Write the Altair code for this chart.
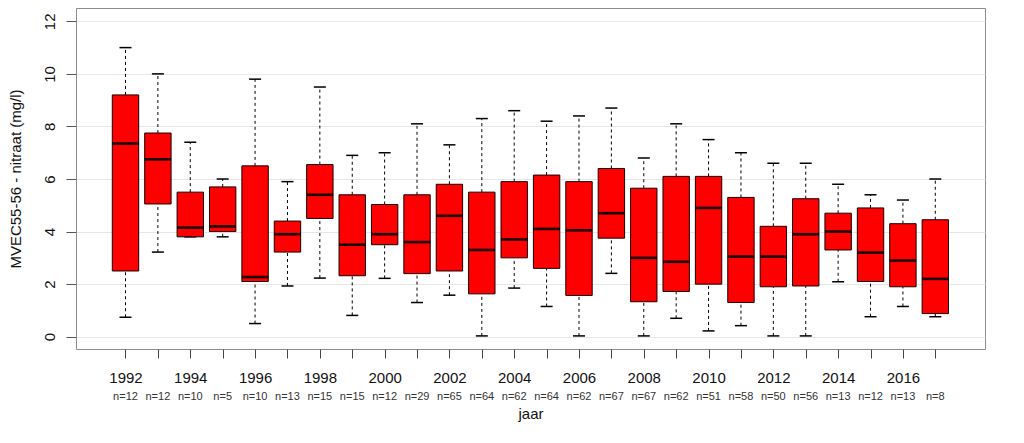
import altair as alt
import pandas as pd

years = list(range(1992, 2018))
hi = [11.0, 10.0, 7.4, 6.0, 9.8, 5.9, 9.5, 6.9, 7.0, 8.1, 7.3, 8.3, 8.6, 8.2, 8.4, 8.7, 6.8, 8.1, 7.5, 7.0, 6.6, 6.6, 5.8, 5.4, 5.2, 6.0]
q3 = [9.2, 7.75, 5.5, 5.7, 6.5, 4.4, 6.55, 5.4, 5.03, 5.4, 5.8, 5.5, 5.9, 6.15, 5.9, 6.4, 5.65, 6.1, 6.1, 5.3, 4.2, 5.25, 4.7, 4.9, 4.3, 4.45]
med = [7.35, 6.75, 4.15, 4.2, 2.27, 3.9, 5.4, 3.5, 3.9, 3.6, 4.6, 3.3, 3.7, 4.1, 4.05, 4.7, 3.0, 2.85, 4.9, 3.05, 3.05, 3.9, 4.0, 3.2, 2.9, 2.2]
q1 = [2.5, 5.05, 3.8, 4.0, 2.1, 3.22, 4.5, 2.32, 3.5, 2.4, 2.5, 1.63, 3.0, 2.6, 1.57, 3.75, 1.33, 1.72, 2.0, 1.3, 1.9, 1.93, 3.3, 2.1, 1.9, 0.88]
lo = [0.74, 3.22, 3.8, 3.8, 0.5, 1.93, 2.23, 0.81, 2.22, 1.3, 1.58, 0.03, 1.85, 1.15, 0.03, 2.41, 0.03, 0.7, 0.22, 0.42, 0.03, 0.03, 2.09, 0.76, 1.15, 0.76]
n = [12, 12, 10, 5, 10, 13, 15, 15, 12, 29, 65, 64, 62, 64, 62, 67, 67, 62, 51, 58, 50, 56, 13, 12, 13, 8]
y_ticks = [0, 2, 4, 6, 8, 10, 12]

df = pd.DataFrame({"year": years, "hi": hi, "q3": q3, "med": med, "q1": q1, "lo": lo, "n": n})
df["ntext"] = ["n=" + str(v) for v in n]

FONT = "Liberation Sans"
W, H = 909, 341

x_enc = alt.X(
    "year:Q",
    scale=alt.Scale(domain=[1990.472, 2018.534], nice=False, zero=False),
    axis=alt.Axis(
        values=years,
        labelExpr="datum.value % 2 == 0 ? '' + datum.value : ''",
        domain=False, grid=False,
        tickSize=9, tickColor="#444444", tickWidth=1,
        labelPadding=12.6, labelFontSize=15, labelFont=FONT, labelColor="#111111",
        labelOverlap=False, labelFlush=False, labelBound=False,
        title="jaar", titleFont=FONT, titleFontSize=15, titleFontWeight="normal",
        titleColor="#111111", titleX=W / 2, titleY=69, titleAlign="center",
        titleBaseline="alphabetic",
    ),
)
y_scale = alt.Scale(domain=[-0.468, 12.507], nice=False, zero=False)
y_axis = alt.Axis(
    values=y_ticks, domain=False, grid=True, gridColor="#e6e6e6", gridWidth=1,
    tickSize=10, tickColor="#555555", tickWidth=1,
    labelAngle=270, labelAlign="center", labelBaseline="bottom", labelPadding=8.5,
    labelFontSize=15, labelFont=FONT, labelColor="#111111",
    labelOverlap=False, labelFlush=False, labelBound=False,
    title="MVEC55-56 - nitraat (mg/l)", titleFont=FONT, titleFontSize=15,
    titleFontWeight="normal", titleColor="#111111", titleAngle=270,
    titleX=-61.0, titleY=H / 2, titleAlign="center", titleBaseline="middle",
)

base = alt.Chart(df)

whisk_lo = base.mark_rule(color="black", strokeWidth=1, strokeDash=[3, 3]).encode(
    x=x_enc, y=alt.Y("lo:Q", scale=y_scale, axis=y_axis), y2="q1:Q")
whisk_hi = base.mark_rule(color="black", strokeWidth=1, strokeDash=[3, 3]).encode(
    x=x_enc, y=alt.Y("q3:Q", scale=y_scale, axis=y_axis), y2="hi:Q")
cap_lo = base.mark_rule(color="black", strokeWidth=1.5, xOffset=-6, x2Offset=6).encode(
    x=x_enc, x2="year:Q", y=alt.Y("lo:Q", scale=y_scale, axis=y_axis))
cap_hi = base.mark_rule(color="black", strokeWidth=1.5, xOffset=-6, x2Offset=6).encode(
    x=x_enc, x2="year:Q", y=alt.Y("hi:Q", scale=y_scale, axis=y_axis))
box = base.mark_rect(fill="#ff0000", stroke="#1a0000", strokeWidth=1,
                     xOffset=-13.2, x2Offset=13.2).encode(
    x=x_enc, x2="year:Q", y=alt.Y("q1:Q", scale=y_scale, axis=y_axis), y2="q3:Q")
median = base.mark_rule(color="#1a0000", strokeWidth=2.6, xOffset=-13.2, x2Offset=13.2).encode(
    x=x_enc, x2="year:Q", y=alt.Y("med:Q", scale=y_scale, axis=y_axis))
ntxt = base.mark_text(fontSize=11, font=FONT, color="#333333", baseline="middle", align="center").encode(
    x=x_enc, y=alt.value(388.7), text="ntext:N")

chart = alt.layer(whisk_lo, whisk_hi, cap_lo, cap_hi, box, median, ntxt).properties(
    width=W, height=H,
    autosize=alt.AutoSizeParams(type="none"),
    padding={"left": 68, "top": 0, "right": 20, "bottom": 79},
    background="white",
).configure_view(stroke="#8c8c8c", strokeWidth=1)

chart.save("out.html", embed_options={"renderer": "svg", "actions": False})
